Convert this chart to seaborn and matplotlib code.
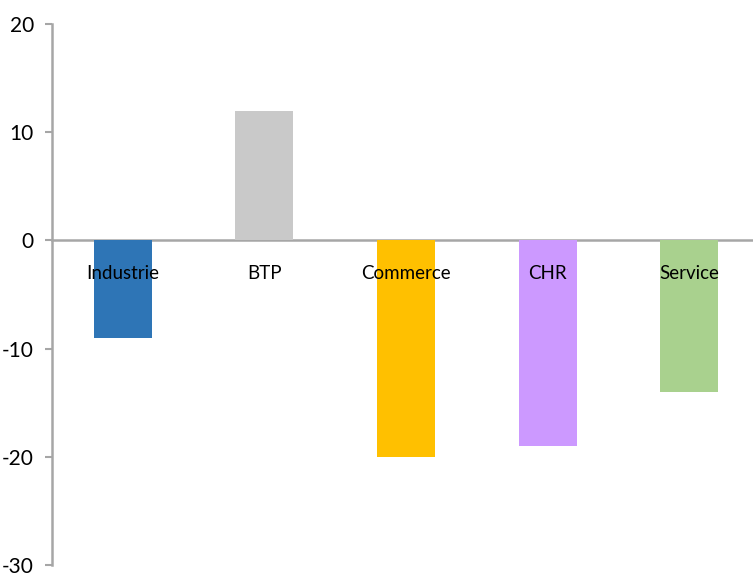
import matplotlib
matplotlib.use("Agg")
import matplotlib.pyplot as plt
import seaborn as sns
import pandas as pd

categories = ["Industrie", "BTP", "Commerce", "CHR", "Service"]
values = [-9, 12, -20, -19, -14]
colors = ["#2E75B6", "#C9C9C9", "#FFC000", "#CC99FF", "#A9D18E"]
yticks = [-30, -20, -10, 0, 10, 20]

sns.set_style("white")
plt.rcParams["font.family"] = ["Lato", "DejaVu Sans"]

df = pd.DataFrame({"cat": categories, "val": values})

fig = plt.figure(figsize=(7.53, 5.79), dpi=100)
ax = fig.add_axes([52 / 753, 1 - 565 / 579, 1 - 52 / 753, (565 - 24) / 579])

sns.barplot(data=df, x="cat", y="val", hue="cat", palette=colors,
            width=0.41, legend=False, ax=ax, saturation=1, linewidth=0)

ax.set_ylim(-30, 20)
ax.set_xlim(-0.5, 4.45)
ax.set_yticks(yticks)
ax.set_yticklabels([str(t) for t in yticks], fontsize=15, color="black")
ax.set_xlabel("")
ax.set_ylabel("")

# axis at zero, gray spines
ax.spines["bottom"].set_position(("data", 0))
for s in ["top", "right"]:
    ax.spines[s].set_visible(False)
for s in ["left", "bottom"]:
    ax.spines[s].set_color("#A6A6A6")
    ax.spines[s].set_linewidth(1.8)
ax.spines["bottom"].set_zorder(0.5)

ax.set_xticks([])
ax.set_xticks([0.5, 1.5, 2.5, 3.5], minor=True)
ax.tick_params(axis="x", which="minor", direction="out", length=5,
               width=1.5, color="#A6A6A6")
ax.tick_params(axis="y", direction="out", length=5, width=1.5,
               color="#A6A6A6", left=True, pad=8)

# category labels just below the zero line
for i, c in enumerate(categories):
    ax.annotate(c, xy=(i, 0), xytext=(0, -25), textcoords="offset pixels",
                ha="center", va="top", fontsize=13.5, color="black")

fig.savefig("out.png", dpi=100)
